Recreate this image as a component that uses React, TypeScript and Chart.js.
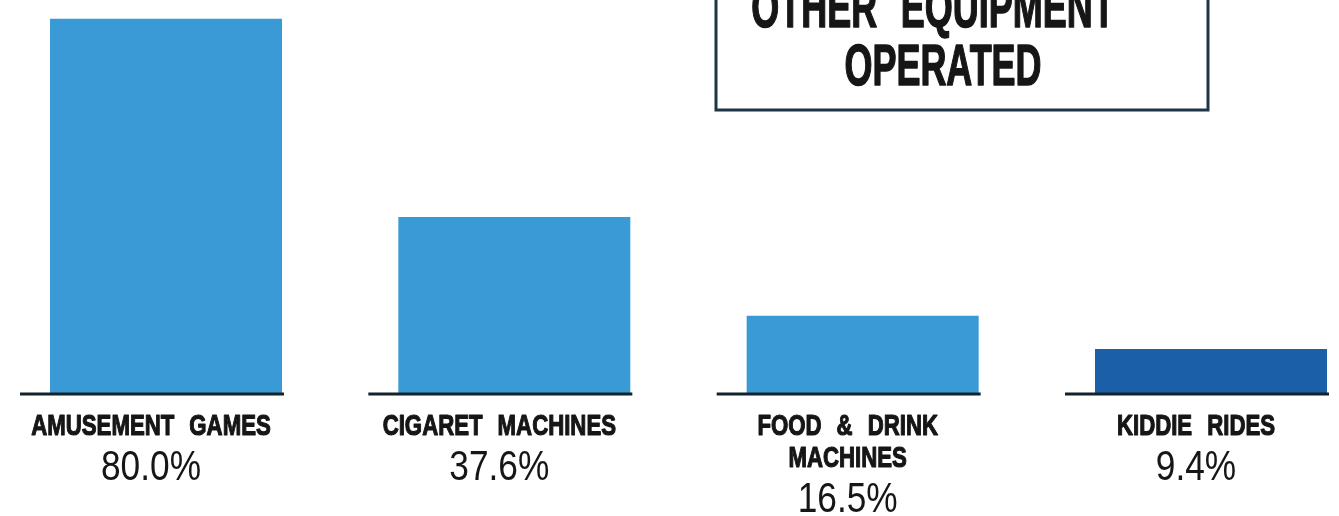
import React, { useEffect, useRef } from "react";
import { Chart, registerables } from "chart.js";

Chart.register(...registerables);

const categories: string[][] = [
  ["AMUSEMENT GAMES"],
  ["CIGARET MACHINES"],
  ["FOOD & DRINK", "MACHINES"],
  ["KIDDIE RIDES"],
];
const values: number[] = [80.0, 37.6, 16.5, 9.4];
const valueLabels: string[] = ["80.0%", "37.6%", "16.5%", "9.4%"];
const barColors: string[] = ["#3a9ad6", "#3a9ad6", "#3a9ad6", "#1b5fa9"];
const titleLines: string[] = ["OTHER EQUIPMENT", "OPERATED"];

const FONT = '"Liberation Sans", Arial, sans-serif';
const INK = "#161616";

function drawScaled(
  ctx: CanvasRenderingContext2D,
  text: string,
  x: number,
  y: number,
  font: string,
  sx: number,
  wordSpacing: number,
  stroke: number
) {
  ctx.save();
  ctx.translate(x, y);
  ctx.scale(sx, 1);
  ctx.font = font;
  (ctx as any).wordSpacing = `${wordSpacing}px`;
  ctx.textAlign = "center";
  ctx.textBaseline = "alphabetic";
  ctx.fillStyle = INK;
  ctx.fillText(text, 0, 0);
  if (stroke > 0) {
    ctx.strokeStyle = INK;
    ctx.lineWidth = stroke;
    ctx.lineJoin = "round";
    ctx.strokeText(text, 0, 0);
  }
  ctx.restore();
}

const decorPlugin = {
  id: "decor",
  afterDatasetsDraw(chart: any) {
    const ctx: CanvasRenderingContext2D = chart.ctx;
    const xs = chart.scales.x;
    const ys = chart.scales.y;
    const baseY = ys.getPixelForValue(0);
    ctx.save();
    categories.forEach((lines, i) => {
      const cx = xs.getPixelForValue(i);
      // baseline rule
      ctx.strokeStyle = "#14222c";
      ctx.lineWidth = 3;
      ctx.beginPath();
      ctx.moveTo(cx - 146, baseY + 1);
      ctx.lineTo(cx + 118, baseY + 1);
      ctx.stroke();
      const lx = cx - 15;
      let y = baseY + 42;
      lines.forEach((ln, k) => {
        drawScaled(ctx, ln, lx, y, `bold 30px ${FONT}`, 0.74, 12, 1.2);
        if (k < lines.length - 1) y += 32;
      });
      drawScaled(ctx, valueLabels[i], lx, y + 45, `43px ${FONT}`, 0.82, 0, 0);
    });
    // title box
    ctx.strokeStyle = "#1c3646";
    ctx.lineWidth = 3;
    ctx.strokeRect(716, -10, 492, 120);
    drawScaled(ctx, titleLines[0], 933, 27, `bold 58px ${FONT}`, 0.62, 22, 1.5);
    drawScaled(ctx, titleLines[1], 943, 85, `bold 58px ${FONT}`, 0.62, 0, 1.5);
    ctx.restore();
  },
};

export default function App() {
  const ref = useRef<HTMLCanvasElement>(null);
  useEffect(() => {
    document.body.style.margin = "0";
    const chart = new Chart(ref.current!, {
      type: "bar",
      data: {
        labels: categories.map((c) => c.join(" ")),
        datasets: [
          {
            data: values,
            backgroundColor: barColors,
            borderWidth: 0,
            barPercentage: 0.666,
            categoryPercentage: 1,
            clip: false as any,
          },
        ],
      },
      options: {
        animation: false,
        responsive: false,
        devicePixelRatio: 1,
        layout: { padding: { left: 166, right: 128, top: 0, bottom: 123 } },
        scales: {
          x: { type: "category", offset: false, display: false },
          y: { min: 0, max: 84, display: false },
        },
        plugins: { legend: { display: false }, tooltip: { enabled: false } },
      },
      plugins: [decorPlugin],
    });
    return () => chart.destroy();
  }, []);
  return (
    <div style={{ width: 1339, height: 516, background: "#fff" }}>
      <canvas ref={ref} width={1339} height={516} style={{ display: "block" }} />
    </div>
  );
}
